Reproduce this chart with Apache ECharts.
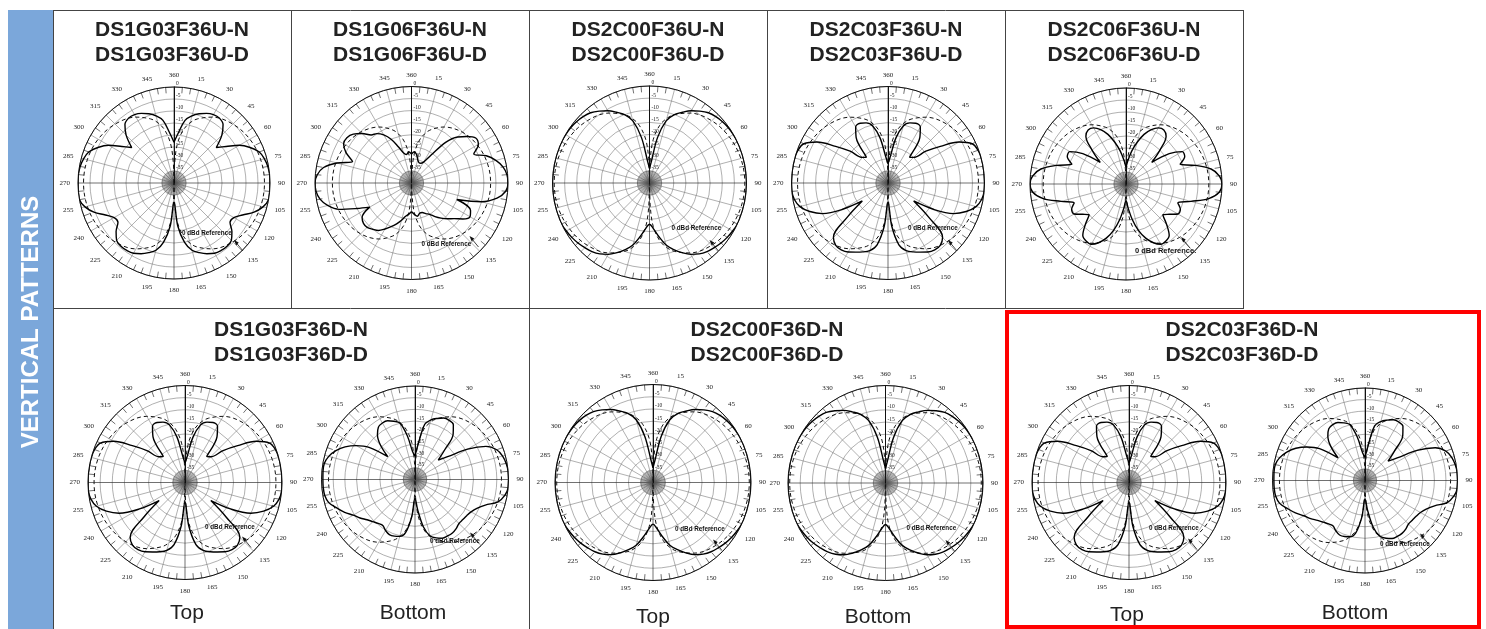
<!DOCTYPE html>
<html>
<head>
<meta charset="utf-8">
<script src="https://cdn.jsdelivr.net/npm/echarts@6/dist/echarts.min.js"></script>
<style>
html, body { margin: 0; padding: 0; background: #fff; }
#main { width: 1486px; height: 629px; }
</style>
</head>
<body>
<div id="main"></div>
<script>
// angles of the measured patterns, clockwise from the top (deg)
var ANG = [0,5,10,15,20,25,30,35,40,45,50,55,60,65,70,75,80,85,
  90,95,100,105,110,115,120,125,130,135,140,145,150,155,160,165,170,175,
  180,185,190,195,200,205,210,215,220,225,230,235,240,245,250,255,260,265,
  270,275,280,285,290,295,300,305,310,315,320,325,330,335,340,345,350,355,360];

// relative level in dB, one value per angle in ANG
var patA = [-23,-19,-13.5,-11,-9.3,-8,-7.1,-7,-8.2,-11.8,-17,-13.5,-8.6,-5,-2.2,-1,-0.3,0,
  0,0,0,-1.6,-4.5,-8.5,-11.2,-11.5,-8.5,-6.2,-5.6,-5.7,-6.2,-7.5,-9.1,-11,-15,-22,
  -32,-22,-15,-11,-9.1,-7.5,-6.2,-5.7,-5.6,-6.2,-8.5,-11.5,-11.2,-8.5,-4.5,-1.6,0,0,
  0,0,-0.3,-1,-2.2,-5,-8.6,-13.5,-17,-11.8,-8.2,-7,-7.1,-8,-9.3,-11,-13.5,-19,-23];
var patB = [-28,-27,-28,-30,-31,-31,-30,-26,-18,-13,-10,-7.5,-8,-11.5,-7,-3.8,-1.5,-0.3,
  0,-0.8,-4,-10,-20,-13,-12,-14,-17,-19,-21,-23,-25,-26,-27,-27,-26,-27,
  -28,-27,-26,-24,-22,-20,-18,-16,-15,-14,-14,-15,-20,-15,-8,-4,-1.5,-0.3,
  0,-0.8,-3,-8,-14,-10,-7.5,-7.3,-8.5,-11,-14,-15,-17,-20,-24,-27,-28,-27,-28];
var patC = [-34,-31,-21,-13.5,-10,-7.8,-5.6,-3.8,-2.2,-1.3,-0.7,-0.3,-0.1,0,0,0,0,0,
  0,0,0,0,0,0,-0.4,-0.9,-1.5,-2.3,-3.1,-4.3,-6,-8.3,-10.8,-13.5,-17.5,-21,
  -23,-21,-17.5,-13.5,-10.8,-8.3,-6,-4.3,-3.1,-2.3,-1.5,-0.9,-0.4,0,0,0,0,0,
  0,0,0,0,0,0,-0.1,-0.3,-0.7,-1.3,-2.2,-3.8,-5.6,-7.8,-10,-13.5,-21,-31,-34];
var patD = [-32,-29,-21,-15.5,-13.5,-12.7,-13.2,-17,-26,-25,-19.5,-13.5,-6,-1.5,-0.3,0,0,0,
  0,0,-0.6,-2.2,-5.5,-10,-18,-27,-18,-8,-6.3,-6.2,-7,-8.4,-9.6,-11,-14,-22,
  -32,-22,-14,-11,-9.6,-8.4,-7,-6.2,-6.3,-8,-18,-27,-18,-10,-5.5,-2.2,-0.6,0,
  0,0,0,0,-0.3,-1.5,-6,-13.5,-19.5,-25,-26,-17,-13.2,-12.7,-13.5,-15.5,-21,-29,-32];
var patE = [-33,-30,-26,-22,-18,-15,-13,-12.5,-14,-20,-26,-18,-13,-13,-16,-10,-4,-1,
  0,-1,-5,-12,-17,-15,-15,-18,-20,-16,-12,-11,-11,-13,-16,-20,-25,-30,
  -33,-30,-25,-20,-16,-13,-11,-11,-12,-16,-20,-18,-15,-15,-17,-12,-5,-1,
  0,-1,-4,-10,-16,-13,-13,-18,-26,-20,-14,-12.5,-13,-15,-18,-22,-26,-30,-33];
var patF = [-30,-25,-16,-13.6,-12.2,-11,-10.8,-11.4,-14.6,-22,-27,-23,-14,-6.5,-2.8,-1.2,-0.4,0,
  0,0,-1,-3.2,-8,-10.8,-12.3,-13,-13.3,-13.4,-12.6,-12.1,-12.1,-12.3,-13.4,-15,-19.5,-27,
  -32,-24,-17,-14.8,-14.2,-14,-14.8,-16,-15.5,-14.5,-13.2,-11.3,-9.5,-6.8,-4.4,-1.8,-0.8,-0.6,
  -0.6,-0.5,-0.6,-1.8,-4,-7,-11,-16,-24.8,-19,-15,-12.7,-12.1,-12.3,-13.5,-15,-21,-28,-30];

// 0 dBd reference (dashed), read at these angles
var REF_ANG = [0,2,5,10,15,20,30,45,60,75,90,105,120,135,150,160,165,170,175,178,180,
  182,185,190,195,200,210,225,240,255,270,285,300,315,330,340,345,350,355,358,360];
var refA = [-40,-31.5,-23.5,-17.5,-14,-11.6,-8.3,-5.3,-3.5,-2.6,-2.3,-2.6,-3.5,-5.3,-8.3,-11.6,-14,-17.5,-23.5,-31.5,-40,
  -31.5,-23.5,-17.5,-14,-11.6,-8.3,-5.3,-3.5,-2.6,-2.3,-2.6,-3.5,-5.3,-8.3,-11.6,-14,-17.5,-23.5,-31.5,-40];
var refB = [-40,-36.4,-28.4,-22.4,-18.9,-16.5,-13.2,-10.2,-8.5,-7.5,-7.2,-7.5,-8.5,-10.2,-13.2,-16.5,-18.9,-22.4,-28.4,-36.4,-40,
  -36.4,-28.4,-22.4,-18.9,-16.5,-13.2,-10.2,-8.5,-7.5,-7.2,-7.5,-8.5,-10.2,-13.2,-16.5,-18.9,-22.4,-28.4,-36.4,-40];
var refC = [-40,-29.9,-21.9,-15.9,-12.4,-10,-6.7,-3.7,-2,-1,-0.7,-1,-2,-3.7,-6.7,-10,-12.4,-15.9,-21.9,-29.9,-40,
  -29.9,-21.9,-15.9,-12.4,-10,-6.7,-3.7,-2,-1,-0.7,-1,-2,-3.7,-6.7,-10,-12.4,-15.9,-21.9,-29.9,-40];
var refD = [-40,-31.7,-23.7,-17.7,-14.2,-11.8,-8.5,-5.5,-3.8,-2.8,-2.5,-2.8,-3.8,-5.5,-8.5,-11.8,-14.2,-17.7,-23.7,-31.7,-40,
  -31.7,-23.7,-17.7,-14.2,-11.8,-8.5,-5.5,-3.8,-2.8,-2.5,-2.8,-3.8,-5.5,-8.5,-11.8,-14.2,-17.7,-23.7,-31.7,-40];
var refE = [-40,-34.7,-26.7,-20.7,-17.2,-14.8,-11.5,-8.5,-6.8,-5.8,-5.5,-5.8,-6.8,-8.5,-11.5,-14.8,-17.2,-20.7,-26.7,-34.7,-40,
  -34.7,-26.7,-20.7,-17.2,-14.8,-11.5,-8.5,-6.8,-5.8,-5.5,-5.8,-6.8,-8.5,-11.5,-14.8,-17.2,-20.7,-26.7,-34.7,-40];
var refF = [-40,-32.2,-24.2,-18.2,-14.7,-12.3,-9,-6,-4.3,-3.3,-3,-3.3,-4.3,-6,-9,-12.3,-14.7,-18.2,-24.2,-32.2,-40,
  -32.2,-24.2,-18.2,-14.7,-12.3,-9,-6,-4.3,-3.3,-3,-3.3,-4.3,-6,-9,-12.3,-14.7,-18.2,-24.2,-32.2,-40];

var TOP_TITLES = [['DS1G03F36U-N','DS1G03F36U-D'],['DS1G06F36U-N','DS1G06F36U-D'],
  ['DS2C00F36U-N','DS2C00F36U-D'],['DS2C03F36U-N','DS2C03F36U-D'],['DS2C06F36U-N','DS2C06F36U-D']];
var BOTTOM_TITLES = [['DS1G03F36D-N','DS1G03F36D-D'],['DS2C00F36D-N','DS2C00F36D-D'],['DS2C03F36D-N','DS2C03F36D-D']];
var SUB_LABELS = ['Top','Bottom','Top','Bottom','Top','Bottom'];
var REF_NOTE = '0 dBd Reference';

// layout of each polar plot: centre, radius, note offset, arrow tip offset
var plots = [
  {cx:174,  cy:183,   r:96,   pat:patA, ref:refA, note:[8,50],  tip:[60,57]},
  {cx:411.5,cy:183,   r:96.5, pat:patB, ref:refB, note:[10,61], tip:[58,53]},
  {cx:649.5,cy:183,   r:97,   pat:patC, ref:refC, note:[22,45], tip:[60,57]},
  {cx:888,  cy:183,   r:96.5, pat:patD, ref:refD, note:[20,45], tip:[60,57]},
  {cx:1126, cy:184,   r:96,   pat:patE, ref:refE, note:[9,67],  tip:[55,53], big:true},
  {cx:185,  cy:482.5, r:97,   pat:patD, ref:refD, note:[20,45], tip:[57,54]},
  {cx:415,  cy:479.5, r:93.5, pat:patF, ref:refF, note:[15,62], tip:[55,53]},
  {cx:653,  cy:482.5, r:98,   pat:patC, ref:refC, note:[22,47], tip:[60,57]},
  {cx:885.5,cy:483,   r:97.5, pat:patC, ref:refC, note:[21,45], tip:[60,57]},
  {cx:1129, cy:482.5, r:97,   pat:patD, ref:refD, note:[20,46], tip:[59,56]},
  {cx:1365, cy:480.5, r:92.5, pat:patF, ref:refF, note:[15,64], tip:[55,53]}
];
var subPos = [[187,613],[413,613],[653,617],[878,617],[1127,615],[1355,613]];

var chart = echarts.init(document.getElementById('main'));
var polar = [], angleAxis = [], radiusAxis = [], series = [], graphic = [];
var GRID = '#7a7a7a';

plots.forEach(function (p, i) {
  var a = 2 * i, b = 2 * i + 1;
  polar.push({ center: [p.cx, p.cy], radius: p.r });
  polar.push({ center: [p.cx, p.cy], radius: p.r * 0.13 });
  angleAxis.push({
    polarIndex: a, type: 'value', min: 0, max: 360, interval: 15,
    startAngle: 90, clockwise: true,
    axisLine: { lineStyle: { color: '#111', width: 1 } },
    axisTick: { show: false, inside: true },
    minorTick: { show: true, splitNumber: 3, length: 6, lineStyle: { color: '#333', width: 0.7 } },
    axisLabel: {
      margin: 8, fontSize: 7, color: '#222', fontFamily: 'Liberation Serif',
      formatter: function (v) { return v === 0 ? '360' : (v === 360 ? '' : String(v)); }
    },
    splitLine: { show: true, lineStyle: { color: ['#111', GRID, GRID, GRID, GRID, GRID], width: 0.6 } }
  });
  radiusAxis.push({
    polarIndex: a, type: 'value', min: -40, max: 0, interval: 5,
    axisLine: { show: true, lineStyle: { color: '#111', width: 1 } },
    axisTick: { show: false },
    axisLabel: {
      fontSize: 5.5, color: '#222', fontFamily: 'Liberation Serif', margin: -2,
      align: 'left', verticalAlign: 'bottom',
      formatter: function (v) { return v === -40 ? '' : String(v); }
    },
    splitLine: { show: true, lineStyle: { color: GRID, width: 0.6 } }
  });
  angleAxis.push({
    polarIndex: b, type: 'value', min: 0, max: 360, interval: 5, startAngle: 90,
    axisLine: { show: false }, axisTick: { show: false }, axisLabel: { show: false },
    splitLine: { show: true, lineStyle: { color: '#555', width: 0.5 } }
  });
  radiusAxis.push({ polarIndex: b, type: 'value', min: 0, max: 1, show: false,
    splitLine: { show: false } });

  series.push({
    type: 'line', coordinateSystem: 'polar', polarIndex: a, symbol: 'none',
    smooth: 0.35, silent: true, z: 3,
    lineStyle: { color: '#111', width: 1, type: [4, 3] },
    data: REF_ANG.map(function (ang, k) { return [p.ref[k], ang]; })
  });
  series.push({
    type: 'line', coordinateSystem: 'polar', polarIndex: a, symbol: 'none',
    smooth: 0.35, silent: true, z: 4,
    lineStyle: { color: '#000', width: 1.4 },
    data: ANG.map(function (ang, k) { return [p.pat[k], ang]; })
  });

  // "0 dBd Reference" note with arrow
  var tx = p.cx + p.tip[0], ty = p.cy + p.tip[1];
  graphic.push({
    type: 'text', x: p.cx + p.note[0], y: p.cy + p.note[1], z: 10,
    style: { text: REF_NOTE + (p.big ? '.' : ''), fill: '#111',
      font: 'bold ' + (p.big ? 7.5 : 6.3) + 'px "Liberation Sans", Arial',
      textAlign: 'left', textVerticalAlign: 'middle', align: 'left', verticalAlign: 'middle' }
  });
  graphic.push({
    type: 'line', z: 10,
    shape: { x1: tx + 9, y1: ty + 11, x2: tx + 2, y2: ty + 2.5 },
    style: { stroke: '#111', lineWidth: 0.8 }
  });
  graphic.push({
    type: 'polygon', z: 10,
    shape: { points: [[tx, ty], [tx + 4.7, ty + 2.4], [tx + 2.2, ty + 5.5]] },
    style: { fill: '#111' }
  });
});

// frames
function seg(x1, y1, x2, y2, color, w) {
  graphic.push({ type: 'line', z: 1, shape: { x1: x1, y1: y1, x2: x2, y2: y2 },
    style: { stroke: color, lineWidth: w } });
}
graphic.push({ type: 'rect', z: 1, shape: { x: 8, y: 10, width: 45, height: 619 }, style: { fill: '#7ba7da' } });
graphic.push({
  type: 'text', x: 31, y: 322, rotation: Math.PI / 2, z: 2,
  style: { text: 'VERTICAL PATTERNS', fill: '#fff', font: 'bold 24px "Liberation Sans", Arial',
    textAlign: 'center', textVerticalAlign: 'middle', align: 'center', verticalAlign: 'middle' }
});
seg(53, 10.5, 1243, 10.5, '#444', 1);
seg(53, 308.5, 1243, 308.5, '#444', 1);
[53.5, 291.5, 529.5, 767.5, 1005.5, 1243.5].forEach(function (x) { seg(x, 10, x, 309, '#444', 1); });
seg(53.5, 308, 53.5, 629, '#444', 1);
seg(529.5, 308, 529.5, 629, '#444', 1);
graphic.push({ type: 'rect', z: 5, shape: { x: 1007, y: 312, width: 472, height: 315 },
  style: { fill: null, stroke: '#ff0000', lineWidth: 4 } });

// titles
var titleFont = 'bold 21px "Liberation Sans", Arial';
[172, 410, 648, 886, 1124].forEach(function (x, i) {
  [30, 55].forEach(function (y, j) {
    graphic.push({ type: 'text', x: x, y: y, z: 6, style: { text: TOP_TITLES[i][j], fill: '#222', font: titleFont,
      textAlign: 'center', textVerticalAlign: 'middle', align: 'center', verticalAlign: 'middle' } });
  });
});
[291, 767, 1242].forEach(function (x, i) {
  [330, 355].forEach(function (y, j) {
    graphic.push({ type: 'text', x: x, y: y, z: 6, style: { text: BOTTOM_TITLES[i][j], fill: '#222', font: titleFont,
      textAlign: 'center', textVerticalAlign: 'middle', align: 'center', verticalAlign: 'middle' } });
  });
});
subPos.forEach(function (pos, i) {
  graphic.push({ type: 'text', x: pos[0], y: pos[1], z: 6, style: { text: SUB_LABELS[i], fill: '#222',
    font: '21px "Liberation Sans", Arial',
    textAlign: 'center', textVerticalAlign: 'middle', align: 'center', verticalAlign: 'middle' } });
});

chart.setOption({
  animation: false,
  backgroundColor: '#fff',
  polar: polar,
  angleAxis: angleAxis,
  radiusAxis: radiusAxis,
  series: series,
  graphic: graphic
});
</script>
</body>
</html>
